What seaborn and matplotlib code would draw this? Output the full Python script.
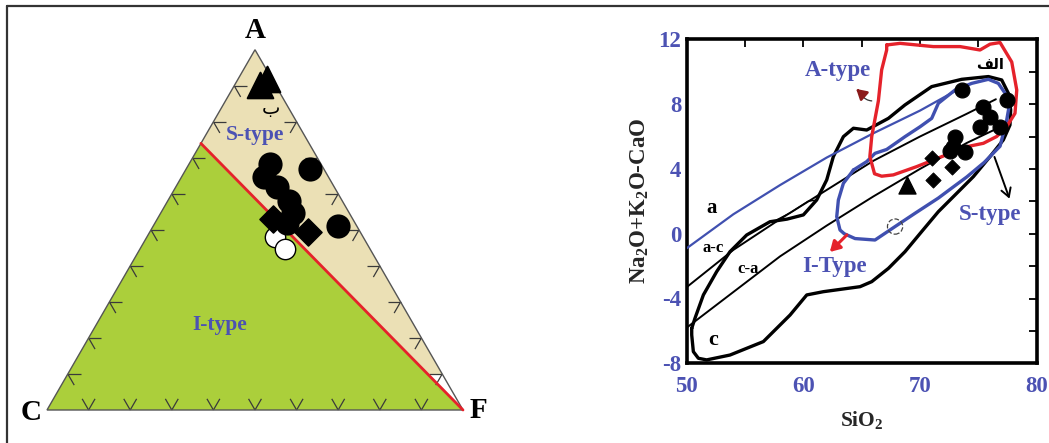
import numpy as np
import pandas as pd
import matplotlib
matplotlib.use("Agg")
import matplotlib.pyplot as plt
from matplotlib.lines import Line2D
from matplotlib.patches import Polygon
import seaborn as sns

sns.set_style("white")
plt.rcParams['font.family'] = ['Liberation Serif', 'DejaVu Sans']
plt.rcParams['mathtext.fontset'] = 'custom'
plt.rcParams['mathtext.rm'] = 'Liberation Serif'
plt.rcParams['mathtext.bf'] = 'Liberation Serif:bold'
plt.rcParams['mathtext.it'] = 'Liberation Serif:italic'

# ---------------- ACF ternary (A, C, F in %) ----------------
tri_A = [92.0, 90.1]
tri_C = [1.1, 3.8]
tri_F = [6.9, 6.1]

circ_A = [68.2, 66.9, 64.6, 61.9, 58.0, 54.7, 51.9, 51.1]
circ_C = [12.3, 3.3, 15.5, 13.7, 12.8, 13.5, 16.4, 4.5]
circ_F = [19.5, 29.8, 19.9, 24.4, 29.2, 31.8, 31.7, 44.4]

dia_A = [53.0, 49.4]
dia_C = [19.2, 12.6]
dia_F = [27.8, 38.0]

open_A = [48.1, 44.8]
open_C = [21.2, 20.4]
open_F = [30.7, 34.8]

# S/I boundary: from A-C edge to the F apex
boundary_A = [74.0, 0.0]
boundary_C = [26.0, 0.0]
boundary_F = [0.0, 100.0]

tick_steps = [10, 20, 30, 40, 50, 60, 70, 80, 90]

# ---------------- MALI diagram (SiO2 vs Na2O+K2O-CaO) ----------------
line_a_x = [50.0, 54.0, 58.0, 62.0, 66.0, 70.0, 73.5]
line_a_y = [-0.9, 1.2, 3.0, 4.7, 6.2, 7.6, 9.0]

line_ac_x = [50.0, 54.0, 58.0, 62.0, 66.0, 70.0, 74.0, 76.5]
line_ac_y = [-3.3, -1.0, 0.9, 2.7, 4.5, 6.0, 7.4, 8.3]

line_ca_x = [50.0, 54.0, 58.0, 62.0, 66.0, 70.0, 74.0, 77.5]
line_ca_y = [-5.8, -3.6, -1.4, 0.5, 2.3, 4.0, 5.6, 6.8]

field_x = [50.43, 50.43, 50.57, 51.0, 51.71, 53.71, 56.57, 58.86, 60.29, 61.71, 64.86,
           65.86, 67.29, 68.71, 70.14, 71.57, 73.0, 74.57, 76.0, 77.14, 77.71, 77.77,
           77.57, 77.0, 75.86, 73.57, 71.0, 68.71, 67.29, 65.43, 64.29, 63.43, 62.57,
           62.0, 61.14, 60.0, 58.6, 57.14, 55.14, 53.71, 52.57, 51.43, 50.71, 50.43]
field_y = [-5.84, -6.25, -7.28, -7.69, -7.79, -7.49, -6.66, -5.02, -3.78, -3.58, -3.27,
           -2.96, -2.14, -1.11, 0.13, 1.36, 2.39, 3.52, 4.76, 5.79, 6.71, 7.64,
           8.67, 9.49, 9.70, 9.53, 9.08, 7.95, 7.12, 6.40, 6.51, 5.99, 4.76,
           3.32, 2.08, 1.16, 0.90, 0.74, -0.08, -1.11, -2.34, -3.78, -5.22, -5.84]

loop_x = [57.7, 58.9, 60.4, 61.14]
loop_y = [0.85, 1.3, 2.0, 2.08]

stype_x = [64.29, 65.43, 66.14, 67.14, 68.71, 70.0, 71.0, 71.57, 73.0, 74.43, 75.86,
           76.71, 77.29, 77.63, 77.43, 76.86, 75.5, 74.0, 72.5, 71.57, 69.57, 67.86,
           66.14, 64.43, 63.5, 63.14, 62.86, 63.0, 63.43, 64.29]
stype_y = [3.93, 4.45, 4.96, 5.2, 5.99, 6.6, 7.12, 8.05, 8.87, 9.28, 9.53,
           9.28, 8.67, 7.84, 7.02, 5.4, 4.4, 3.5, 2.7, 2.2, 1.26, 0.44,
           -0.39, -0.30, 0.0, 0.23, 1.05, 2.08, 3.11, 3.93]

atype_x = [67.14, 68.29, 71.14, 73.43, 75.14, 76.0, 76.86, 77.86, 78.29, 78.14, 77.43,
           76.57, 75.43, 74.0, 72.57, 71.14, 69.71, 67.71, 66.71, 66.1, 65.7, 65.86,
           66.43, 66.71, 67.14, 67.14]
atype_y = [11.65, 11.75, 11.55, 11.55, 11.34, 11.7, 11.8, 10.6, 8.87, 7.43, 6.61,
           6.0, 5.58, 5.37, 4.96, 4.55, 4.14, 3.63, 3.55, 3.7, 4.76, 6.0,
           8.2, 10.11, 11.34, 11.65]

m_circ_x = [73.57, 77.43, 75.43, 76.0, 76.86, 75.14, 73.0, 72.86, 73.86, 72.6]
m_circ_y = [8.87, 8.26, 7.84, 7.23, 6.61, 6.61, 6.0, 5.37, 5.07, 5.1]
m_dia_x = [71.0, 72.71, 71.14]
m_dia_y = [4.65, 4.14, 3.32]
m_tri_x = [68.86]
m_tri_y = [3.0]
m_dash_x = [67.86]
m_dash_y = [0.44]

x_major = [50, 60, 70, 80]
x_minor = [55, 65, 75]
y_major = [-8, -4, 0, 4, 8, 12]
y_minor = [-6, -2, 2, 6, 10]

# ---------------- colours ----------------
GREEN = '#abcf3b'
BEIGE = '#ebe0b5'
RED = '#e5222b'
BLUE = '#4050b0'
LBLUE = '#4c52b3'

W, H = 1049, 443
fig = plt.figure(figsize=(W / 100, H / 100), dpi=100)
SQ3 = np.sqrt(3) / 2


def tern(A, C, F):
    A = np.asarray(A, float); C = np.asarray(C, float); F = np.asarray(F, float)
    s = A + C + F
    return (F + A / 2) / s, A * SQ3 / s


# ============ left panel: ACF ternary ============
axL = fig.add_axes([0, 0, 520 / W, 1])
axL.set_xlim(-47 / 416, (520 - 47) / 416)
axL.set_ylim(-33 / 416, 410 / 416)
axL.axis('off')

vA = tern(100, 0, 0); vC = tern(0, 100, 0); vF = tern(0, 0, 100)
pB = tern(boundary_A[0], boundary_C[0], boundary_F[0])
cut = 10.0
t = 1 - cut / boundary_A[0]
qB = tern(cut, boundary_C[0] * (1 - t), 100 - cut - boundary_C[0] * (1 - t))
rB = tern(cut, 0, 100 - cut)

axL.add_patch(Polygon([pB, vC, vF], closed=True, facecolor=GREEN, edgecolor='none', zorder=1))
axL.add_patch(Polygon([vA, pB, qB, rB], closed=True, facecolor=BEIGE, edgecolor='none', zorder=1))
axL.add_patch(Polygon([vA, vC, vF], closed=True, facecolor='none', edgecolor='#555555', lw=1.0, zorder=3))

# ternary tick marks
tl = 0.031
tick_kw = dict(color='#3a3a3a', lw=0.9, zorder=2, solid_capstyle='butt')
for v in tick_steps:
    # left edge (C-A)
    x0, y0 = tern(v, 100 - v, 0)
    axL.plot([x0, x0 + tl], [y0, y0], **tick_kw)
    axL.plot([x0, x0 + 0.5 * tl], [y0, y0 - SQ3 * tl], **tick_kw)
    # right edge (F-A)
    x0, y0 = tern(v, 0, 100 - v)
    axL.plot([x0, x0 - tl], [y0, y0], **tick_kw)
    axL.plot([x0, x0 - 0.5 * tl], [y0, y0 - SQ3 * tl], **tick_kw)
    # base (C-F)
    x0, y0 = tern(0, 100 - v, v)
    axL.plot([x0, x0 - 0.5 * tl], [y0, y0 + SQ3 * tl], **tick_kw)
    axL.plot([x0, x0 + 0.5 * tl], [y0, y0 + SQ3 * tl], **tick_kw)

bx, by = tern(boundary_A, boundary_C, boundary_F)
sns.lineplot(x=bx, y=by, sort=False, estimator=None, color=RED, lw=2.0, ax=axL, zorder=4)

ox, oy = tern(open_A, open_C, open_F)
sns.scatterplot(x=ox, y=oy, marker='o', s=215, color='white', edgecolor='black', linewidth=1.0, ax=axL, zorder=5)
dx, dy = tern(dia_A, dia_C, dia_F)
sns.scatterplot(x=dx, y=dy, marker='D', s=190, color='black', edgecolor='black', ax=axL, zorder=6)
cx, cy = tern(circ_A, circ_C, circ_F)
sns.scatterplot(x=cx, y=cy, marker='o', s=260, color='black', edgecolor='black', ax=axL, zorder=6)
tx, ty = tern(tri_A, tri_C, tri_F)
sns.scatterplot(x=tx, y=ty, marker='^', s=340, color='black', edgecolor='black', ax=axL, zorder=6)

lab_kw = dict(fontsize=21, fontweight='bold', color='black', ha='center', va='center')
axL.text(vA[0], vA[1] + 0.046, 'A', **lab_kw)
axL.text(vC[0] - 0.037, vC[1] - 0.005, 'C', **lab_kw)
axL.text(vF[0] + 0.037, vF[1] + 0.0, 'F', **lab_kw)
axL.text(0.501, 0.661, 'S-type', fontsize=15.5, fontweight='bold', color=LBLUE, ha='center', va='center', zorder=7)
axL.text(0.416, 0.205, 'I-type', fontsize=15.5, fontweight='bold', color=LBLUE, ha='center', va='center', zorder=7)
axL.text(0.538, 0.725, '\u0628', fontsize=14, color='black', ha='center', va='center',
         family=['DejaVu Sans'], zorder=7)

# ============ right panel: MALI diagram ============
axR = fig.add_axes([686.7 / W, (H - 363.3) / H, 350 / W, 324 / H])

thin = dict(sort=False, estimator=None, ax=axR)
sns.lineplot(x=field_x, y=field_y, color='black', lw=2.4, zorder=3, **thin)
sns.lineplot(x=loop_x, y=loop_y, color='black', lw=1.0, zorder=3, **thin)
sns.lineplot(x=line_a_x, y=line_a_y, color=BLUE, lw=1.6, zorder=3, **thin)
sns.lineplot(x=line_ac_x, y=line_ac_y, color='black', lw=1.4, zorder=3, **thin)
sns.lineplot(x=line_ca_x, y=line_ca_y, color='black', lw=1.4, zorder=3, **thin)
sns.lineplot(x=stype_x, y=stype_y, color=BLUE, lw=2.4, zorder=4, **thin)
sns.lineplot(x=atype_x, y=atype_y, color=RED, lw=2.4, zorder=5, **thin)

sns.scatterplot(x=m_dash_x, y=m_dash_y, marker='o', s=120, facecolor='none', edgecolor='#444444',
                linewidth=0.9, linestyle='--', ax=axR, zorder=6)
sns.scatterplot(x=m_circ_x, y=m_circ_y, marker='o', s=115, color='black', edgecolor='black', ax=axR, zorder=7)
sns.scatterplot(x=m_dia_x, y=m_dia_y, marker='D', s=60, color='black', edgecolor='black', ax=axR, zorder=7)
sns.scatterplot(x=m_tri_x, y=m_tri_y, marker='^', s=150, color='black', edgecolor='black', ax=axR, zorder=7)

# field labels and arrows
axR.text(63.0, 10.1, 'A-type', fontsize=16.5, fontweight='bold', color=LBLUE, ha='center', va='center', zorder=8)
axR.text(76.0, 1.2, 'S-type', fontsize=16.5, fontweight='bold', color=LBLUE, ha='center', va='center', zorder=8)
axR.text(62.7, -2.05, 'I-Type', fontsize=16.5, fontweight='bold', color=LBLUE, ha='center', va='center', zorder=8)
axR.text(76.0, 10.45, '\ufed2\ufedf\ufe8d', fontsize=10.5, fontweight='bold', color='black', ha='center',
         va='center', family=['DejaVu Sans'], zorder=8)
fld = dict(fontweight='bold', color='black', ha='center', va='center', zorder=8)
axR.text(52.15, 1.6, 'a', fontsize=15, **fld)
axR.text(52.3, -0.9, 'a-c', fontsize=12, **fld)
axR.text(55.3, -2.15, 'c-a', fontsize=12, **fld)
axR.text(52.3, -6.55, 'c', fontsize=16, **fld)

axR.annotate('', xy=(64.9, 8.7), xytext=(66.1, 8.2),
             arrowprops=dict(arrowstyle='-', color='#333333', lw=0.9, connectionstyle='arc3,rad=-0.35'), zorder=8)
axR.annotate('', xy=(64.35, 9.05), xytext=(64.9, 8.7),
             arrowprops=dict(arrowstyle='-|>,head_length=0.6,head_width=0.35', color='#8a1a1a', lw=1.8), zorder=8)
axR.annotate('', xy=(62.1, -1.25), xytext=(63.9, 0.05),
             arrowprops=dict(arrowstyle='-|>,head_length=0.6,head_width=0.35', color=RED, lw=2.2), zorder=8)
axR.annotate('', xy=(77.75, 2.0), xytext=(76.3, 4.9),
             arrowprops=dict(arrowstyle='->,head_length=0.6,head_width=0.35', color='black', lw=1.4), zorder=8)

axR.set_xlim(50, 80)
axR.set_ylim(-8, 12)
axR.set_xticks(x_major)
axR.set_xticks(x_minor, minor=True)
axR.set_yticks(y_major)
axR.set_yticks(y_minor, minor=True)
axR.set_xticklabels([str(v) for v in x_major])
axR.set_yticklabels([str(v) for v in y_major])
axR.tick_params(which='both', direction='in', top=True, right=True, length=6, width=1.3, color='black')
axR.tick_params(axis='x', which='major', pad=9, labelsize=16.5, labelcolor=LBLUE)
axR.tick_params(axis='y', which='major', pad=4, labelsize=16.5, labelcolor=LBLUE)
for lab in axR.get_xticklabels() + axR.get_yticklabels():
    lab.set_fontweight('bold')
for sp in axR.spines.values():
    sp.set_linewidth(2.6)
    sp.set_color('black')
axR.set_xlabel(r'SiO$_\mathbf{2}$', fontsize=15.5, fontweight='bold', labelpad=9)
axR.set_ylabel(r'Na$_\mathbf{2}$O+K$_\mathbf{2}$O-CaO', fontsize=16.5, fontweight='bold', labelpad=5)

# outer frame (top and left rules)
fig.add_artist(Line2D([7 / W, 1.0], [1 - 6 / H, 1 - 6 / H], color='#333333', lw=1.6))
fig.add_artist(Line2D([7 / W, 7 / W], [0.0, 1 - 6 / H], color='#333333', lw=1.6))

fig.savefig('out.png', dpi=100)
